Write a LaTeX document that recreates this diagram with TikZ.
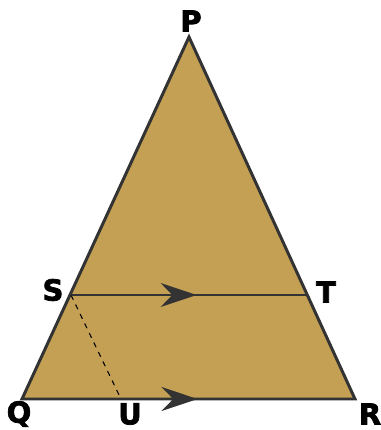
\documentclass[tikz,border=0pt]{standalone}
\usepackage{fontspec}
\setmainfont{DejaVu Sans}
\newfontfamily\labelfont[BoldFeatures={FakeBold=2.5}]{DejaVu Sans}
\usepackage{xcolor}
\usepackage{tikz}
\usetikzlibrary{arrows.meta, decorations.markings}

\definecolor{gold}{HTML}{C4A055}
\definecolor{edge}{HTML}{333333}

\begin{document}
\begin{tikzpicture}[
    x=0.02cm, y=-0.02cm,
    vertex/.style={
        font=\labelfont\bfseries\fontsize{16.5}{16.5}\selectfont,
        text=black,
        inner sep=0pt
    },
    side/.style={
        draw=edge,
        line width=1.7pt,
        line join=miter
    },
    midarrow/.style={
        draw=edge,
        line width=1.1pt,
        decoration={markings,
            mark=at position #1 with {\arrow{Stealth[length=0.72cm, width=0.48cm]}}},
        postaction={decorate}
    }
]

\useasboundingbox (0,0) rectangle (381,430);

% Points of the triangle
\coordinate (p) at (189,37);
\coordinate (q) at (22,399);
\coordinate (r) at (355,399);
\coordinate (s) at (71,295);
\coordinate (t) at (308,295);
\coordinate (u) at (121,399);

% Triangle
\fill[gold] (p) -- (q) -- (r) -- cycle;

% Parallel lines
\draw[midarrow=0.53] (s) -- (t);
\draw[midarrow=0.527] (q) -- (r);
\draw[dashed, draw=black, line width=0.6pt] (s) -- (u);
\draw[side] (p) -- (q) -- (r) -- cycle;

% Labels
\node[vertex] (lp) at (191,21) {P};
\node[vertex] (ls) at (53,290) {S};
\node[vertex] (lt) at (326,292) {T};
\node[vertex] (lq) at (19,414) {Q};
\node[vertex] (lu) at (130,414) {U};
\node[vertex] (lr) at (370,414) {R};

\end{tikzpicture}
\end{document}
